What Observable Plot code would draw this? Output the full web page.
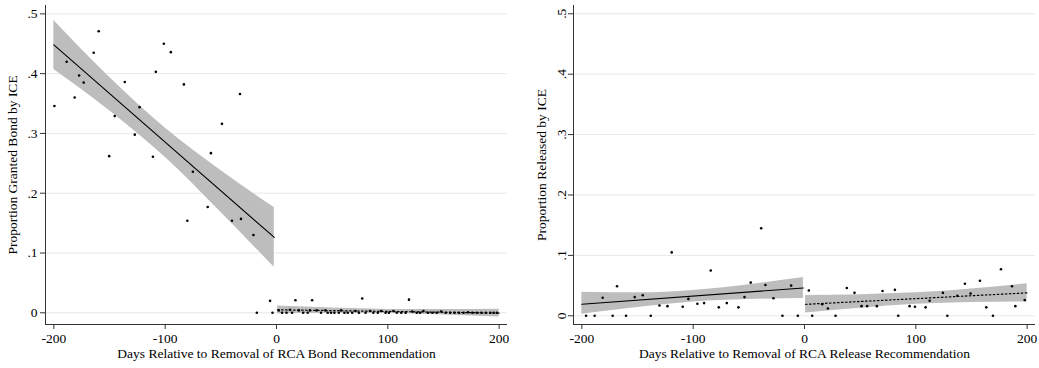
<!DOCTYPE html>
<html><head><meta charset="utf-8">
<script src="https://cdn.jsdelivr.net/npm/d3@7"></script>
<script src="https://cdn.jsdelivr.net/npm/@observablehq/plot@0.6"></script>
<style>
body{margin:0;background:#fff;}
#wrap{display:flex;width:1039px;height:368px;overflow:hidden;}
</style></head><body><div id="wrap"></div>
<script>
// ---- shared ticks ----
const xTicks = [-200, -100, 0, 100, 200];
const yTicks = [0, 0.1, 0.2, 0.3, 0.4, 0.5];

// ---- Left panel: Bond ----
const bondPreX = [-199.5,-188.5,-181.3,-177.3,-173.2,-164.2,-159.7,-150.3,-145.3,-136.3,-127.3,-123,-111,-108.4,-101.2,-94.9,-83.2,-80.1,-75.1,-61.8,-58.9,-49,-40,-32.8,-31.9,-20.7,-17.7,-5.8,-3.6];
const bondPreY = [0.346,0.420,0.360,0.397,0.385,0.435,0.471,0.262,0.329,0.386,0.298,0.344,0.261,0.403,0.450,0.436,0.382,0.154,0.236,0.177,0.267,0.316,0.154,0.366,0.157,0.130,0,0.020,0];
const bondPostX = [2,5,9,12,14,17,20,24,28,30,32,36,40,44,46,49,52,56,58,61,64,68,71,74,77,80,84,87,91,94,98,101,105,108,112,116,119,122,126,129,132,136,140,144,148,152,156,160,164,168,172,176,180,184,188,192,195,198];
const bondPostY = [0.004,0,0,0.005,0,0.021,0.004,0,0,0.004,0.021,0.004,0,0.004,0,0,0,0,0.004,0,0,0,0.003,0,0.024,0,0.003,0,0,0.003,0,0,0.003,0,0,0,0.022,0.002,0,0,0.003,0,0,0,0.002,0,0,0,0,0,0.001,0,0,0,0,0,0,0];
const bondPreFitX = [-200, -2];
const bondPreFitY = [0.448, 0.126];
const bondPreBandX = [-200, -150, -100, -50, -2];
const bondPreBandLo = [0.407, 0.338, 0.260, 0.168, 0.076];
const bondPreBandHi = [0.489, 0.394, 0.309, 0.238, 0.176];
const bondPostFitX = [1, 200];
const bondPostFitY = [0.005, -0.0005];
const bondPostBandX = [1, 50, 100, 150, 200];
const bondPostBandLo = [-0.0015, -0.0008, -0.0012, -0.0035, -0.007];
const bondPostBandHi = [0.0115, 0.008, 0.0057, 0.0053, 0.006];

// ---- Right panel: Release ----
const relPreX = [-196.2,-188.5,-181.3,-172.3,-168.4,-160.3,-152.5,-145.3,-138.1,-130.3,-123.1,-119.3,-109.4,-104.3,-96.2,-90.2,-84.2,-77,-69.8,-59.3,-53.9,-48.3,-38.9,-35.1,-27.9,-19.8,-12,-6];
const relPreY = [0,0,0.030,0,0.049,0,0.031,0.034,0,0.017,0.016,0.105,0.015,0.028,0.020,0.021,0.075,0.014,0.021,0.014,0.031,0.055,0.145,0.051,0.029,0,0.050,0];
const relPostX = [3.9,6.9,15.9,21,27.9,38,44.9,51.2,56.3,65,70.1,81.2,84.2,94.4,99.2,108.8,112.4,124.3,128.3,137.3,144.1,149.2,157.6,163.3,169.3,176.5,186.4,189.4,197.8];
const relPostY = [0.042,0,0.019,0.012,0,0.046,0.038,0.016,0.016,0.016,0.041,0.043,0,0.016,0.015,0.014,0.025,0.038,0,0.033,0.053,0.037,0.058,0.014,0,0.077,0.049,0.016,0.026];
const relPreFitX = [-200, -1];
const relPreFitY = [0.019, 0.046];
const relPreBandX = [-200, -150, -100, -50, -1];
const relPreBandLo = [0.0025, 0.0136, 0.023, 0.027, 0.0285];
const relPreBandHi = [0.039, 0.038, 0.042, 0.0515, 0.0635];
const relPostFitX = [1, 200];
const relPostFitY = [0.019, 0.038];
const relPostBandX = [1, 50, 100, 150, 200];
const relPostBandLo = [0.0045, 0.0127, 0.019, 0.0222, 0.023];
const relPostBandHi = [0.0335, 0.0349, 0.038, 0.0444, 0.053];

const zip = (xs, ys) => xs.map((x, i) => ({x, y: ys[i]}));
const zipBand = (xs, lo, hi) => xs.map((x, i) => ({x, lo: lo[i], hi: hi[i]}));
const yFmt = d => d === 0 ? "0" : d3.format(".1f")(d).replace(/^0/, "");

function panel(o) {
  const xDomain = [-207.5, 207.5];
  return Plot.plot({
    width: o.width, height: 368,
    marginTop: 5, marginBottom: 44, marginLeft: o.marginLeft, marginRight: o.marginRight,
    style: {fontFamily: "'Liberation Serif', 'Times New Roman', serif", fontSize: "13.5px", background: "white", color: "black"},
    x: {domain: xDomain},
    y: {domain: o.yDomain},
    marks: [
      Plot.gridY(yTicks, {stroke: "#e8e8e8", strokeOpacity: 1, strokeWidth: 1}),
      Plot.areaY(zipBand(...o.preBand), {x: "x", y1: "lo", y2: "hi", fill: "#bdbdbd", curve: "monotone-x"}),
      Plot.areaY(zipBand(...o.postBand), {x: "x", y1: "lo", y2: "hi", fill: "#bdbdbd", curve: "monotone-x"}),
      Plot.line(zip(...o.preFit), {x: "x", y: "y", stroke: "black", strokeWidth: 1.1}),
      Plot.line(zip(...o.postFit), {x: "x", y: "y", stroke: "black", strokeWidth: 1.2, strokeDasharray: "1.5,2.5"}),
      Plot.dot(zip(...o.pre).concat(zip(...o.post)), {x: "x", y: "y", r: 1.3, fill: "black", stroke: "none"}),
      Plot.ruleX([xDomain[0]], {stroke: "#333", strokeWidth: 1}),
      Plot.ruleY([o.yDomain[0]], {stroke: "#333", strokeWidth: 1}),
      Plot.axisX(xTicks, {tickSize: 5, tickPadding: 4, tickFormat: d => String(d), stroke: "#333",
        label: o.xlabel, labelAnchor: "center", labelOffset: 33, labelArrow: "none"}),
      Plot.axisY(yTicks, {tickSize: 5, tickPadding: 3, tickFormat: yFmt, tickRotate: o.rotate, stroke: "#333",
        label: o.ylabel, labelAnchor: "center", labelOffset: o.labelOffset, labelArrow: "none"})
    ]
  });
}

const wrap = document.getElementById("wrap");
wrap.appendChild(panel({
  width: 520, marginLeft: 45, marginRight: 13, yDomain: [-0.0196, 0.514], rotate: 0, labelOffset: 38,
  ylabel: "Proportion Granted Bond by ICE", xlabel: "Days Relative to Removal of RCA Bond Recommendation",
  pre: [bondPreX, bondPreY], post: [bondPostX, bondPostY],
  preFit: [bondPreFitX, bondPreFitY], postFit: [bondPostFitX, bondPostFitY],
  preBand: [bondPreBandX, bondPreBandLo, bondPreBandHi], postBand: [bondPostBandX, bondPostBandLo, bondPostBandHi]
}));
wrap.appendChild(panel({
  width: 519, marginLeft: 53, marginRight: 4, yDomain: [-0.0144, 0.5137], rotate: -90, labelOffset: 37,
  ylabel: "Proportion Released by ICE", xlabel: "Days Relative to Removal of RCA Release Recommendation",
  pre: [relPreX, relPreY], post: [relPostX, relPostY],
  preFit: [relPreFitX, relPreFitY], postFit: [relPostFitX, relPostFitY],
  preBand: [relPreBandX, relPreBandLo, relPreBandHi], postBand: [relPostBandX, relPostBandLo, relPostBandHi]
}));
</script></body></html>
